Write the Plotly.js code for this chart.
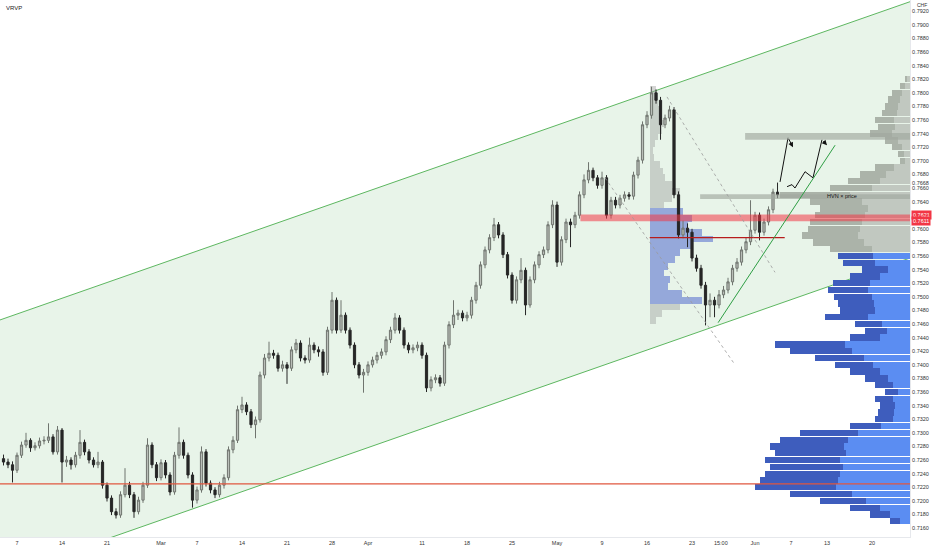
<!DOCTYPE html>
<html>
<head>
<meta charset="utf-8">
<script src="https://cdn.plot.ly/plotly-3.0.1.min.js"></script>
<style>html,body{margin:0;padding:0;background:#fff;}#chart{width:932px;height:550px;}</style>
</head>
<body>
<div id="chart"></div>
<script>
// ---------- DATA ----------
// half-day candles, x = trading-day index (0 = Mon Feb 7)
const firstCandleDay = -1.5;
const candleStep = 0.5;
const opens = [0.7262,0.7257,0.7253,0.7245,0.7267,0.7282,0.7289,0.7278,0.7281,0.7288,0.7289,0.7294,0.7272,0.7304,0.7257,0.7260,0.7253,0.7267,0.7286,0.7272,0.7260,0.7253,0.7257,0.7223,0.7204,0.7184,0.7179,0.7209,0.7223,0.7209,0.7184,0.7201,0.7223,0.7282,0.7253,0.7234,0.7256,0.7238,0.7213,0.7267,0.7286,0.7267,0.7238,0.7201,0.7216,0.7272,0.7226,0.7216,0.7209,0.7223,0.7234,0.7275,0.7289,0.7334,0.7341,0.7331,0.7312,0.7319,0.7385,0.7410,0.7417,0.7414,0.7395,0.7400,0.7395,0.7422,0.7432,0.7410,0.7407,0.7429,0.7422,0.7419,0.7389,0.7451,0.7495,0.7451,0.7473,0.7451,0.7429,0.7400,0.7385,0.7389,0.7400,0.7407,0.7414,0.7419,0.7437,0.7451,0.7469,0.7451,0.7429,0.7422,0.7425,0.7429,0.7414,0.7366,0.7378,0.7381,0.7373,0.7429,0.7459,0.7473,0.7476,0.7469,0.7473,0.7495,0.7517,0.7547,0.7569,0.7587,0.7606,0.7591,0.7562,0.7532,0.7495,0.7525,0.7539,0.7488,0.7525,0.7547,0.7562,0.7569,0.7606,0.7635,0.7551,0.7584,0.7610,0.7606,0.7620,0.7650,0.7672,0.7686,0.7675,0.7664,0.7675,0.7620,0.7642,0.7635,0.7645,0.7650,0.7648,0.7679,0.7701,0.7753,0.7767,0.7800,0.7789,0.7753,0.7763,0.7775,0.7650,0.7591,0.7601,0.7595,0.7557,0.7542,0.7517,0.7488,0.7495,0.7488,0.7503,0.7510,0.7522,0.7542,0.7551,0.7569,0.7581,0.7598,0.7620,0.7595,0.7610,0.7628,0.7654];
const closes = [0.7257,0.7253,0.7245,0.7267,0.7282,0.7289,0.7278,0.7281,0.7288,0.7289,0.7294,0.7272,0.7304,0.7257,0.7260,0.7253,0.7267,0.7286,0.7272,0.7260,0.7253,0.7257,0.7223,0.7204,0.7184,0.7179,0.7209,0.7223,0.7209,0.7184,0.7201,0.7223,0.7282,0.7253,0.7234,0.7256,0.7238,0.7213,0.7267,0.7286,0.7267,0.7238,0.7201,0.7216,0.7272,0.7226,0.7216,0.7209,0.7223,0.7234,0.7275,0.7289,0.7334,0.7341,0.7331,0.7312,0.7319,0.7385,0.7410,0.7417,0.7414,0.7395,0.7400,0.7395,0.7422,0.7432,0.7410,0.7407,0.7429,0.7422,0.7419,0.7389,0.7451,0.7495,0.7451,0.7473,0.7451,0.7429,0.7400,0.7385,0.7389,0.7400,0.7407,0.7414,0.7419,0.7437,0.7451,0.7469,0.7451,0.7429,0.7422,0.7425,0.7429,0.7414,0.7366,0.7378,0.7381,0.7373,0.7429,0.7459,0.7473,0.7476,0.7469,0.7473,0.7495,0.7517,0.7547,0.7569,0.7587,0.7606,0.7591,0.7562,0.7532,0.7495,0.7525,0.7539,0.7488,0.7525,0.7547,0.7562,0.7569,0.7606,0.7635,0.7551,0.7584,0.7610,0.7606,0.7620,0.7650,0.7672,0.7686,0.7675,0.7664,0.7675,0.7620,0.7642,0.7635,0.7645,0.7650,0.7648,0.7679,0.7701,0.7753,0.7767,0.7800,0.7789,0.7753,0.7763,0.7775,0.7650,0.7591,0.7601,0.7595,0.7557,0.7542,0.7517,0.7488,0.7495,0.7488,0.7503,0.7510,0.7522,0.7542,0.7551,0.7569,0.7581,0.7598,0.7620,0.7595,0.7610,0.7628,0.7654,0.7650];
const highs = [0.7268,0.7262,0.7258,0.7271,0.7287,0.7300,0.7292,0.7286,0.7293,0.7295,0.7314,0.7298,0.7310,0.7307,0.7266,0.7264,0.7272,0.7304,0.7290,0.7276,0.7264,0.7272,0.7260,0.7227,0.7208,0.7189,0.7214,0.7248,0.7228,0.7213,0.7206,0.7228,0.7292,0.7286,0.7257,0.7261,0.7260,0.7242,0.7272,0.7308,0.7290,0.7271,0.7242,0.7221,0.7280,0.7276,0.7230,0.7220,0.7228,0.7239,0.7280,0.7295,0.7340,0.7353,0.7345,0.7335,0.7324,0.7390,0.7416,0.7434,0.7422,0.7418,0.7406,0.7404,0.7427,0.7438,0.7436,0.7414,0.7440,0.7433,0.7427,0.7423,0.7456,0.7507,0.7499,0.7495,0.7477,0.7455,0.7433,0.7404,0.7394,0.7405,0.7412,0.7419,0.7424,0.7442,0.7456,0.7476,0.7473,0.7455,0.7433,0.7430,0.7434,0.7433,0.7418,0.7383,0.7386,0.7385,0.7434,0.7464,0.7495,0.7481,0.7480,0.7478,0.7500,0.7522,0.7552,0.7574,0.7592,0.7616,0.7610,0.7595,0.7566,0.7536,0.7530,0.7557,0.7543,0.7530,0.7552,0.7567,0.7574,0.7611,0.7642,0.7640,0.7589,0.7615,0.7615,0.7625,0.7655,0.7680,0.7698,0.7690,0.7679,0.7684,0.7679,0.7647,0.7647,0.7650,0.7655,0.7654,0.7684,0.7706,0.7758,0.7773,0.7809,0.7805,0.7794,0.7768,0.7781,0.7779,0.7655,0.7612,0.7608,0.7600,0.7562,0.7547,0.7522,0.7505,0.7500,0.7510,0.7516,0.7528,0.7547,0.7557,0.7574,0.7587,0.7642,0.7625,0.7624,0.7615,0.7633,0.7659,0.7668];
const lows = [0.7252,0.7248,0.7227,0.7241,0.7263,0.7278,0.7272,0.7274,0.7277,0.7283,0.7285,0.7268,0.7268,0.7227,0.7250,0.7246,0.7249,0.7262,0.7267,0.7255,0.7249,0.7248,0.7218,0.7199,0.7179,0.7174,0.7175,0.7205,0.7204,0.7175,0.7180,0.7197,0.7219,0.7248,0.7229,0.7230,0.7233,0.7208,0.7209,0.7262,0.7262,0.7233,0.7190,0.7196,0.7212,0.7221,0.7211,0.7204,0.7205,0.7218,0.7230,0.7270,0.7285,0.7329,0.7326,0.7307,0.7292,0.7315,0.7380,0.7405,0.7409,0.7390,0.7390,0.7372,0.7391,0.7417,0.7405,0.7402,0.7403,0.7417,0.7412,0.7384,0.7385,0.7446,0.7446,0.7447,0.7446,0.7424,0.7395,0.7380,0.7359,0.7384,0.7396,0.7402,0.7409,0.7414,0.7432,0.7446,0.7446,0.7424,0.7417,0.7417,0.7420,0.7409,0.7360,0.7361,0.7373,0.7368,0.7369,0.7424,0.7454,0.7466,0.7464,0.7464,0.7468,0.7490,0.7512,0.7542,0.7564,0.7582,0.7586,0.7557,0.7527,0.7490,0.7490,0.7520,0.7473,0.7484,0.7520,0.7542,0.7557,0.7564,0.7601,0.7544,0.7546,0.7579,0.7573,0.7601,0.7615,0.7645,0.7667,0.7670,0.7659,0.7659,0.7615,0.7615,0.7630,0.7630,0.7640,0.7643,0.7643,0.7674,0.7696,0.7748,0.7762,0.7784,0.7731,0.7748,0.7758,0.7645,0.7586,0.7586,0.7573,0.7552,0.7537,0.7512,0.7458,0.7470,0.7470,0.7483,0.7498,0.7505,0.7517,0.7537,0.7546,0.7564,0.7576,0.7593,0.7583,0.7590,0.7605,0.7623,0.7645];

// visible range volume profile (right side)
const vrvpPrice = [0.7820,0.7810,0.7800,0.7790,0.7780,0.7770,0.7760,0.7750,0.7740,0.7730,0.7720,0.7710,0.7700,0.7690,0.7680,0.7670,0.7660,0.7650,0.7640,0.7630,0.7620,0.7610,0.7600,0.7590,0.7580,0.7570,0.7560,0.7550,0.7540,0.7530,0.7520,0.7510,0.7500,0.7490,0.7480,0.7470,0.7460,0.7450,0.7440,0.7430,0.7420,0.7410,0.7400,0.7390,0.7380,0.7370,0.7360,0.7350,0.7340,0.7330,0.7320,0.7310,0.7300,0.7290,0.7280,0.7270,0.7260,0.7250,0.7240,0.7230,0.7220,0.7210,0.7200,0.7190,0.7180,0.7170];
const vrvpUp = [3,5,8,10,12,13,16,15,18,12,8,6,5,16,24,30,38,60,48,42,45,48,50,52,46,38,37,35,22,30,40,42,38,36,35,42,28,23,30,65,58,46,37,30,22,17,12,17,15,16,17,29,52,62,66,64,70,67,70,72,74,58,44,30,20,10];
const vrvpDown = [2,5,10,12,13,15,19,17,22,13,10,6,5,19,26,32,42,70,52,48,50,52,52,56,51,42,35,32,26,30,37,40,38,36,35,43,27,22,30,70,62,49,38,30,23,18,13,18,15,16,18,31,58,68,74,71,75,73,75,78,81,62,46,30,20,10];

// fixed range volume profile (from the May high)
const sessionVpPrice = [0.7805,0.7795,0.7785,0.7775,0.7765,0.7755,0.7745,0.7735,0.7725,0.7715,0.7705,0.7695,0.7685,0.7675,0.7665,0.7655,0.7645,0.7635,0.7625,0.7615,0.7605,0.7595,0.7585,0.7575,0.7565,0.7555,0.7545,0.7535,0.7525,0.7515,0.7505,0.7495,0.7485,0.7475,0.7465];
const sessionVpVol = [6,8,8,9,12,14,12,8,5,3,4,10,13,15,22,30,22,14,33,42,38,52,63,42,30,25,18,14,20,18,32,52,30,12,6];
const sessionVpStartDay = 70.3;
const sessionVpValueArea = [0.7495, 0.7625];

// drawn levels and tools
const supportLevel = 0.7225;
const zoneRed = [0.7611, 0.7621];
const zoneRedStartDay = 62.6;
const pocLevel = 0.7587;
const pocDays = [70.3, 85.3];
const zoneTop = [0.7731, 0.7741];
const zoneTopStartDay = 80.9;
const zoneHvn = [0.7644, 0.7651];
const zoneHvnStartDay = 75.9;
const channelUpper = [[-1.89, 0.7466], [99.22, 0.7934]];
const channelLower = [[-1.89, 0.7089], [99.22, 0.7557]];
const wedgeLine = [[77.9, 0.7462], [90.9, 0.7723]];
const dottedLineA = [[65.33, 0.7675], [79.78, 0.7400]];
const dottedLineB = [[72.22, 0.7794], [84.22, 0.7536]];
const projection1Days = [84.78, 85.67, 86.22];
const projection1Price = [0.7669, 0.7734, 0.7720];
const projection2Days = [85.56, 86.11, 86.44, 87.56, 88.44, 89.44, 90.0];
const projection2Price = [0.7662, 0.7665, 0.7660, 0.7684, 0.7675, 0.7731, 0.7723];

const xTickDays = [0,5,10,16,20,25,30,35,39,45,50,55,60,65,70,75,78.2,82,86,90,95];
const xTickText = ['7','14','21','Mar','7','14','21','28','Apr','11','18','25','May','9','16','23','15:00','Jun','7','13','20'];
const yTickVals = [0.7160,0.7180,0.7200,0.7220,0.7240,0.7260,0.7280,0.7300,0.7320,0.7340,0.7360,0.7380,0.7400,0.7420,0.7440,0.7460,0.7480,0.7500,0.7520,0.7540,0.7560,0.7580,0.7600,0.7640,0.7660,0.7668,0.7680,0.7700,0.7720,0.7740,0.7760,0.7780,0.7800,0.7820,0.7840,0.7860,0.7880,0.7900,0.7920];
const redPriceLabels = [0.7621, 0.7611];

// ---------- CHART ----------
const xRange = [-1.89, 99.22];
const yRange = [0.71468, 0.79365];
const FONT = 'Liberation Sans, Arial, sans-serif';
const days = closes.map((_, i) => firstCandleDay + i * candleStep);
const dayPerVol = 1 / 9;

const vrvpColorsUp = vrvpPrice.map(p => p >= 0.7565 ? 'rgba(186,192,184,0.85)' : '#5b8df2');
const vrvpColorsDown = vrvpPrice.map(p => p >= 0.7565 ? 'rgba(160,167,158,0.85)' : '#3e5dbd');
const sessColors = sessionVpPrice.map(p => (p >= sessionVpValueArea[0] && p <= sessionVpValueArea[1]) ? 'rgba(80,105,205,0.55)' : 'rgba(160,162,160,0.45)');

const traces = [
  {type:'bar', orientation:'h', y: sessionVpPrice, x: sessionVpVol.map(v => v * dayPerVol), base: sessionVpStartDay,
   width: 0.00098, marker:{color: sessColors, line:{width:0}}, xaxis:'x', yaxis:'y', hoverinfo:'skip', showlegend:false},
  {type:'candlestick', x: days, open: opens, high: highs, low: lows, close: closes,
   increasing:{line:{color:'#6f746e', width:1}, fillcolor:'#b9beb8'},
   decreasing:{line:{color:'#262626', width:1}, fillcolor:'#262626'},
   whiskerwidth:0, hoverinfo:'skip', showlegend:false, xaxis:'x', yaxis:'y'},
  {type:'scatter', mode:'lines', x: projection1Days.slice(0,2), y: projection1Price.slice(0,2), line:{color:'#111', width:1}, hoverinfo:'skip', showlegend:false},
  {type:'scatter', mode:'lines', x: projection2Days.slice(0,6), y: projection2Price.slice(0,6), line:{color:'#111', width:1}, hoverinfo:'skip', showlegend:false},
  {type:'bar', orientation:'h', y: vrvpPrice, x: vrvpUp, width: 0.00092, marker:{color: vrvpColorsUp, line:{width:0}}, xaxis:'x2', yaxis:'y', hoverinfo:'skip', showlegend:false},
  {type:'bar', orientation:'h', y: vrvpPrice, x: vrvpDown, width: 0.00092, marker:{color: vrvpColorsDown, line:{width:0}}, xaxis:'x2', yaxis:'y', hoverinfo:'skip', showlegend:false}
];

const green = 'rgba(76,175,80,0.9)';
const dotted = {color:'#9a9a9a', width:0.8, dash:'dot'};
const shapes = [
  {type:'path', layer:'below', xref:'x', yref:'y',
   path:`M ${channelUpper[0][0]},${channelUpper[0][1]} L ${channelUpper[1][0]},${channelUpper[1][1]} L ${channelLower[1][0]},${channelLower[1][1]} L ${channelLower[0][0]},${channelLower[0][1]} Z`,
   fillcolor:'#e8f4e9', line:{width:0}},
  {type:'line', layer:'below', x0:channelUpper[0][0], y0:channelUpper[0][1], x1:channelUpper[1][0], y1:channelUpper[1][1], line:{color:green, width:1}},
  {type:'line', layer:'below', x0:channelLower[0][0], y0:channelLower[0][1], x1:channelLower[1][0], y1:channelLower[1][1], line:{color:green, width:1}},
  {type:'line', layer:'above', xref:'paper', x0:0, x1:1, yref:'y', y0:supportLevel, y1:supportLevel, line:{color:'#e0573f', width:1.2}},
  {type:'rect', layer:'above', x0:zoneTopStartDay, x1:xRange[1], y0:zoneTop[0], y1:zoneTop[1], fillcolor:'rgba(160,168,158,0.65)', line:{width:0}},
  {type:'rect', layer:'above', x0:zoneHvnStartDay, x1:xRange[1], y0:zoneHvn[0], y1:zoneHvn[1], fillcolor:'rgba(160,168,158,0.65)', line:{width:0}},
  {type:'rect', layer:'above', x0:zoneRedStartDay, x1:xRange[1], y0:zoneRed[0], y1:zoneRed[1], fillcolor:'rgba(242,54,69,0.55)', line:{width:0}},
  {type:'line', layer:'above', x0:pocDays[0], x1:pocDays[1], y0:pocLevel, y1:pocLevel, line:{color:'#b71c1c', width:1.3}},
  {type:'line', layer:'above', x0:wedgeLine[0][0], y0:wedgeLine[0][1], x1:wedgeLine[1][0], y1:wedgeLine[1][1], line:{color:'#2e9e44', width:1}},
  {type:'line', layer:'above', x0:dottedLineA[0][0], y0:dottedLineA[0][1], x1:dottedLineA[1][0], y1:dottedLineA[1][1], line:dotted},
  {type:'line', layer:'above', x0:dottedLineB[0][0], y0:dottedLineB[0][1], x1:dottedLineB[1][0], y1:dottedLineB[1][1], line:dotted}
];

const annotations = [
  {xref:'paper', yref:'paper', x:0.004, y:0.995, xanchor:'left', yanchor:'top', text:'VRVP', showarrow:false, font:{family:FONT, size:6, color:'#222'}},
  {xref:'paper', yref:'paper', x:1.006, y:1.0, xanchor:'left', yanchor:'top', text:'CHF', showarrow:false, font:{family:FONT, size:5, color:'#333'}},
  {xref:'x', yref:'y', x:91.7, y:0.7648, text:'HVN × price', showarrow:false, font:{family:FONT, size:5.5, color:'#111'}},
  {xref:'x', yref:'y', axref:'x', ayref:'y', x:projection1Days[2], y:projection1Price[2], ax:projection1Days[1], ay:projection1Price[1], text:'', showarrow:true, arrowhead:2, arrowsize:1, arrowwidth:1, arrowcolor:'#111'},
  {xref:'x', yref:'y', axref:'x', ayref:'y', x:projection2Days[6], y:projection2Price[6], ax:projection2Days[5], ay:projection2Price[5], text:'', showarrow:true, arrowhead:2, arrowsize:1, arrowwidth:1, arrowcolor:'#111'}
];
redPriceLabels.forEach(p => annotations.push({xref:'paper', yref:'y', x:1, xshift:1, y:p, xanchor:'left', text:p.toFixed(4), showarrow:false,
  bgcolor:'#f23645', borderpad:1, font:{family:FONT, size:5.5, color:'#fff'}}));

const layout = {
  width:932, height:550, autosize:false,
  margin:{l:0, r:22, t:0, b:13, pad:0},
  paper_bgcolor:'#ffffff', plot_bgcolor:'#ffffff',
  barmode:'stack', bargap:0, showlegend:false,
  font:{family:FONT},
  xaxis:{range:xRange, tickvals:xTickDays, ticktext:xTickText, showgrid:false, zeroline:false, ticks:'',
         tickfont:{family:FONT, size:5.5, color:'#333'}, showline:true, linecolor:'#e6e8ec', linewidth:1,
         rangeslider:{visible:false}, fixedrange:true},
  xaxis2:{overlaying:'x', range:[910, 0], visible:false, fixedrange:true},
  yaxis:{side:'right', range:yRange, tickvals:yTickVals, tickformat:'.4f', showgrid:false, zeroline:false, ticks:'',
         tickfont:{family:FONT, size:5.5, color:'#333'}, showline:true, linecolor:'#e6e8ec', linewidth:1, fixedrange:true},
  shapes: shapes,
  annotations: annotations
};

Plotly.newPlot('chart', traces, layout, {displayModeBar:false, staticPlot:true});
</script>
</body>
</html>
